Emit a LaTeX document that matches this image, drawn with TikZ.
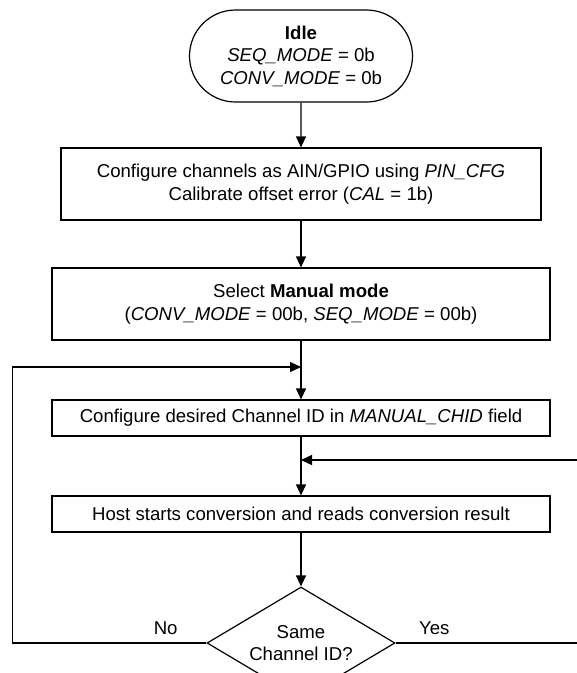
\documentclass[tikz,border=0pt]{standalone}
\usepackage{fontspec}
\setmainfont{Liberation Sans}
\usetikzlibrary{positioning,shapes.geometric,shapes.misc,arrows.meta}

\tikzstyle{term} = [rounded rectangle, minimum width=223pt, minimum height=92pt, inner sep=0pt, align=center, draw=black, line width=1.2pt]
\tikzstyle{box} = [rectangle, minimum width=498pt, minimum height=36pt, inner sep=0pt, align=center, draw=black, line width=1.2pt]
\tikzstyle{decision} = [diamond, aspect=1.68, minimum width=188pt, minimum height=112pt, inner sep=0pt, align=center, draw=black, line width=1.2pt]
\tikzstyle{arrow} = [line width=1.2pt,-{Triangle[length=11pt,width=10pt]}]

\begin{document}
\begin{tikzpicture}[x=1pt, y=-1pt, node distance=120pt, font=\fontsize{18.6}{22.5}\selectfont]
  \useasboundingbox (0,0) rectangle (577,673);

  \node (Idle) [term] at (301,56) {\textbf{Idle}\\\textit{SEQ\_MODE} = 0b\\\textit{CONV\_MODE} = 0b};
  \node (Pin Config) [box, minimum width=480pt, minimum height=72pt, below of=Idle, yshift=-8pt] {Configure channels as AIN/GPIO using \textit{PIN\_CFG}\\Calibrate offset error (\textit{CAL} = 1b)};
  \node (Manual Mode) [box, minimum height=72pt, below of=Pin Config] {Select \textbf{Manual mode}\\(\textit{CONV\_MODE} = 00b, \textit{SEQ\_MODE} = 00b)};
  \node (Channel ID) [box, below of=Manual Mode, yshift=6pt] {Configure desired Channel ID in \textit{MANUAL\_CHID} field};
  \node (Conversion) [box, below of=Channel ID, yshift=24pt] {Host starts conversion and reads conversion result};
  \node (Same ID) [decision, below of=Conversion, yshift=-9pt] {Same\\Channel ID?};

  \coordinate (No Join) at (301,367);
  \coordinate (Yes Join) at (301,460);

  \draw [arrow] (Idle) -- (Pin Config);
  \draw [arrow] (Pin Config) -- (Manual Mode);
  \draw [arrow] (Manual Mode) -- (Channel ID);
  \draw [arrow] (Channel ID) -- (Conversion);
  \draw [arrow] (Conversion) -- (Same ID);
  \draw [arrow] (Same ID.west) -- node [above=4pt, pos=0.21] {No} ++(-194,0) |- (No Join);
  \draw [arrow] (Same ID.east) -- node [above=4pt, pos=0.21] {Yes} ++(184,0) |- (Yes Join);
\end{tikzpicture}
\end{document}
